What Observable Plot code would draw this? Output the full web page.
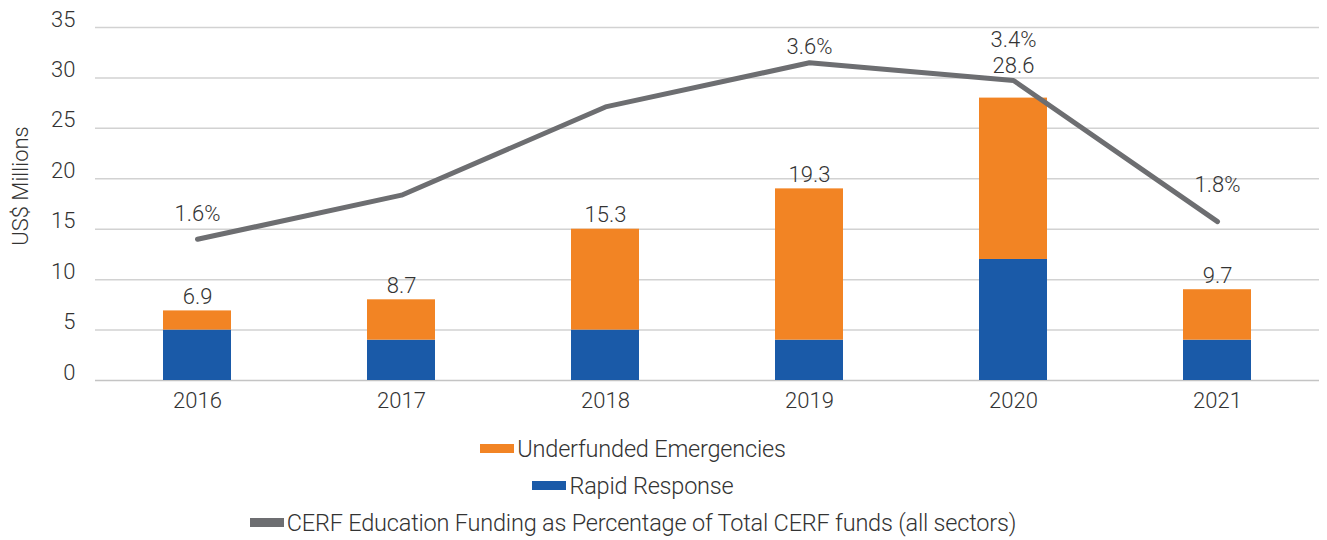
<!DOCTYPE html>
<html><head><meta charset="utf-8">
<script src="https://cdn.jsdelivr.net/npm/d3@7"></script>
<script src="https://cdn.jsdelivr.net/npm/@observablehq/plot@0.6"></script>
<style>
body{margin:0;background:#fff;font-family:Roboto,sans-serif;font-weight:300;color:#333}
#legend{width:1266px;margin-top:5px;display:flex;flex-direction:column;align-items:center;font-size:23.5px;color:#333}
.row{height:37px;display:flex;align-items:center;letter-spacing:-0.2px}
.sw{width:34px;height:9px;margin-right:3px}
</style></head><body><div id="chart"></div><div id="legend"></div>
<script>
const years = ["2016","2017","2018","2019","2020","2021"];
const rapidResponse = [5, 4, 5, 4, 12, 4];
const underfunded = [1.9, 4, 10, 15, 16, 5];
const totalLabels = ["6.9","8.7","15.3","19.3","28.6","9.7"];
const educationShare = [1.6, 2.1, 3.1, 3.6, 3.4, 1.8];
const shareLabels = ["1.6%", "", "", "3.6%", "3.4%", "1.8%"];
const yTicks = [0, 5, 10, 15, 20, 25, 30, 35];
const seriesNames = ["Underfunded Emergencies", "Rapid Response", "CERF Education Funding as Percentage of Total CERF funds (all sectors)"];
const seriesColors = ["#F28424", "#1A5AA8", "#6D6E71"];

const shareMax = 4; // secondary axis 0–4% maps onto 0–35
const yMax = 35;

const stackRows = [];
years.forEach((y, i) => stackRows.push({year: y, series: seriesNames[1], value: rapidResponse[i]}));
years.forEach((y, i) => stackRows.push({year: y, series: seriesNames[0], value: underfunded[i]}));
const totals = years.map((y, i) => ({year: y, top: rapidResponse[i] + underfunded[i], label: totalLabels[i], i}));
const shareRows = years.map((y, i) => ({year: y, share: educationShare[i], label: shareLabels[i], i}));
const shareY = d => d.share * yMax / shareMax;

const font = "Roboto, sans-serif";
const txt = {fontSize: 22, fontWeight: 300, fill: "#333", fontFamily: font};
const shareDy = {0: -25, 3: -16, 4: -40, 5: -37};
const totalDy = i => (i === 4 ? -32 : -14);

const chart = Plot.plot({
  width: 1327, height: 425,
  marginLeft: 95, marginRight: 8, marginTop: 27, marginBottom: 45,
  style: {fontFamily: font, fontWeight: 300, color: "#333", background: "#fff"},
  x: {domain: years, paddingInner: 0.667, paddingOuter: 0.333, label: null},
  y: {domain: [0, yMax], label: null},
  color: {domain: seriesNames.slice(0, 2), range: seriesColors.slice(0, 2)},
  marks: [
    Plot.gridY(yTicks.filter(t => t > 0), {stroke: "#d2d2d2", strokeOpacity: 1, strokeWidth: 1.5}),
    Plot.ruleY([0], {stroke: "#c4c4c4", strokeWidth: 1.5}),
    Plot.barY(stackRows, Plot.stackY({x: "year", y: "value", fill: "series", order: null})),
    Plot.line(shareRows, {x: "year", y: shareY, stroke: seriesColors[2], strokeWidth: 5, strokeLinejoin: "round"}),
    ...totals.map(t => Plot.text([t], {x: "year", y: "top", text: "label", dy: totalDy(t.i), ...txt})),
    ...shareRows.filter(d => d.label).map(d => Plot.text([d], {x: "year", y: shareY, text: "label", dy: shareDy[d.i], ...txt})),
    Plot.axisY({ticks: yTicks, tickSize: 0, tickPadding: 20, fontSize: 22, dy: -8, label: null}),
    Plot.axisX({tickSize: 0, tickPadding: 12, fontSize: 22, label: null}),
    Plot.text(["US$ Millions"], {frameAnchor: "left", textAnchor: "middle", rotate: -90, dx: -75, dy: -18, ...txt, fontSize: 22})
  ]
});
document.getElementById("chart").appendChild(chart);

const legend = document.getElementById("legend");
seriesNames.forEach((name, i) => {
  const row = document.createElement("div");
  row.className = "row";
  const sw = document.createElement("span");
  sw.className = "sw";
  sw.style.background = seriesColors[i];
  const label = document.createElement("span");
  label.textContent = name;
  row.appendChild(sw); row.appendChild(label);
  legend.appendChild(row);
});
</script></body></html>
